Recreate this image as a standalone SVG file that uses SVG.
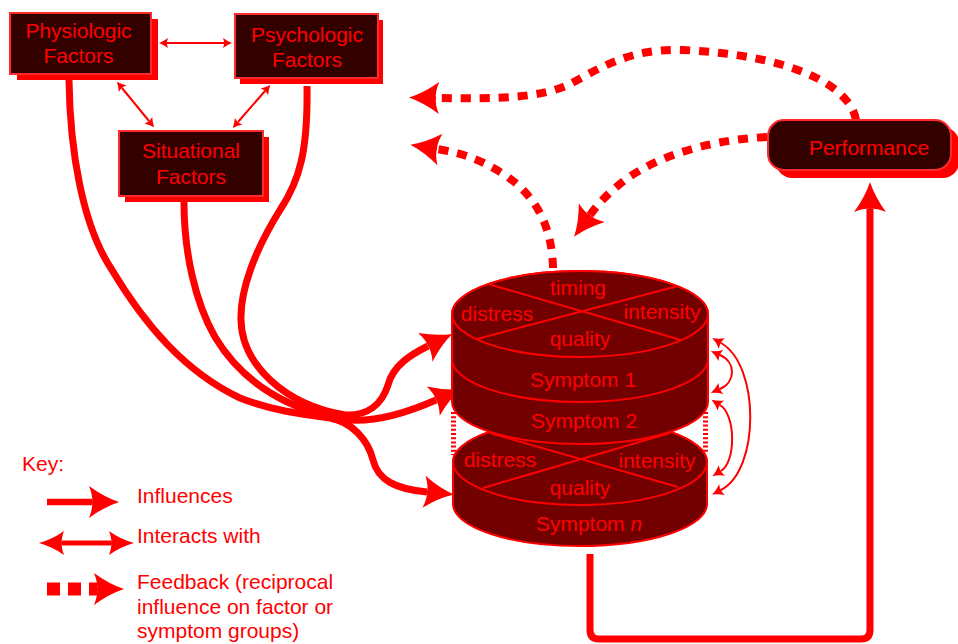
<svg xmlns="http://www.w3.org/2000/svg" width="958" height="644" viewBox="0 0 958 644">
<style>
text{font-family:"Liberation Sans",Arial,sans-serif;font-size:21px;fill:#ff0000}
.c{text-anchor:middle}
.box{fill:#330000;stroke:#ff2a2a;stroke-width:2}
.shadow{fill:#ff0000}
.cyl{fill:#720000;stroke:#ff0000;stroke-width:2}
.edge{fill:none;stroke:#ff0000;stroke-width:2}
.inf{fill:none;stroke:#ff0000;stroke-width:7}
.fb{fill:none;stroke:#ff0000;stroke-width:8;stroke-dasharray:10 9}
.thin{fill:none;stroke:#ff0000;stroke-width:2}
.dots{stroke:#ff0000;stroke-width:5;stroke-dasharray:2 2.2}
</style>
<defs>
<marker id="big" markerUnits="userSpaceOnUse" orient="auto" overflow="visible" markerWidth="1" markerHeight="1" refX="0" refY="0"><path d="M27,0 Q12,-5 -3,-16 Q1,-6 0,0 Q1,6 -3,16 Q12,5 27,0Z" fill="#ff0000"/></marker>
<marker id="mid" markerUnits="userSpaceOnUse" orient="auto-start-reverse" overflow="visible" markerWidth="1" markerHeight="1" refX="0" refY="0"><path d="M23,0 Q9,-4 -2,-12 Q1,-4 0,0 Q1,4 -2,12 Q9,4 23,0Z" fill="#ff0000"/></marker>
<marker id="sm" markerUnits="userSpaceOnUse" orient="auto-start-reverse" overflow="visible" markerWidth="1" markerHeight="1" refX="0" refY="0"><path d="M10,0 Q4,-2 -1,-6 Q0.5,-2 0,0 Q0.5,2 -1,6 Q4,2 10,0Z" fill="#ff0000"/></marker>
<marker id="tiny" markerUnits="userSpaceOnUse" orient="auto-start-reverse" overflow="visible" markerWidth="1" markerHeight="1" refX="0" refY="0"><path d="M8,0 Q3.5,-1.8 -1,-5 Q0.3,-1.5 0,0 Q0.3,1.5 -1,5 Q3.5,1.8 8,0Z" fill="#ff0000"/></marker>
</defs>

<g id="connectors">
  <!-- interactions between factor boxes -->
  <path class="thin" d="M167,43 L224,43" marker-start="url(#tiny)" marker-end="url(#tiny)"/>
  <path class="thin" d="M122,88 L149,121" marker-start="url(#tiny)" marker-end="url(#tiny)"/>
  <path class="thin" d="M265,91 L238,122" marker-start="url(#tiny)" marker-end="url(#tiny)"/>
  <!-- influences -->
  <path class="inf" d="M69,80 C70,150 82,225 112,270 C145,325 185,372 240,398 C270,410 300,414 330,418 C352,422 368,440 373,460 C378,480 395,489 427,492" marker-end="url(#big)"/>
  <path class="inf" d="M184,202 C184,252 195,302 215,337 C242,382 285,408 340,419 C370,424 402,415 436,400" marker-end="url(#big)"/>
  <path class="inf" d="M307,86 C308,150 300,180 280,210 C255,250 240,290 241,320 C242,365 285,405 345,415 C368,416 382,404 388,385 C393,365 412,354 428,346" marker-end="url(#big)"/>
  <!-- symptom interactions -->
  <path class="thin" d="M721,343 C760,365 760,470 721,490" marker-start="url(#sm)" marker-end="url(#sm)"/>
  <path class="thin" d="M720,355 C736,362 736,382 720,389" marker-start="url(#sm)" marker-end="url(#sm)"/>
  <path class="thin" d="M720,405 C736,415 736,462 721,471" marker-start="url(#sm)" marker-end="url(#sm)"/>
  <!-- symptoms to performance -->
  <path class="inf" d="M590,554 L590,630 Q590,639 599,639 L861,639 Q870,639 870,630 L870,209" marker-end="url(#big)"/>
  <!-- feedback -->
  <path class="fb" d="M856,120 C850,85 790,55 683,50 C630,48 600,68 570,84 C540,98 500,99 436,98" marker-end="url(#big)"/>
  <path class="fb" d="M767,137 C705,140 655,158 625,180 C608,193 598,204 590,215" marker-end="url(#big)"/>
  <path class="fb" d="M553,268 C552,225 535,195 505,175 C482,160 462,153 437,149" marker-end="url(#big)"/>
</g>

<g id="physiologic">
  <rect class="shadow" x="17" y="19" width="141" height="61"/>
  <rect class="box" x="10" y="13" width="141" height="61"/>
  <text class="c" x="78.5" y="38">Physiologic</text>
  <text class="c" x="78.5" y="63">Factors</text>
</g>
<g id="psychologic">
  <rect class="shadow" x="240" y="20" width="143" height="64"/>
  <rect class="box" x="235" y="14" width="143" height="64"/>
  <text class="c" x="307" y="42">Psychologic</text>
  <text class="c" x="307" y="67">Factors</text>
</g>
<g id="situational">
  <rect class="shadow" x="125" y="137" width="144" height="65"/>
  <rect class="box" x="119" y="131" width="144" height="65"/>
  <text class="c" x="191" y="158">Situational</text>
  <text class="c" x="191" y="184">Factors</text>
</g>
<g id="performance">
  <rect class="shadow" x="776" y="127" width="183" height="51" rx="16"/>
  <rect class="box" x="768" y="120" width="183" height="50" rx="16"/>
  <text class="c" x="869" y="155">Performance</text>
</g>

<g id="symptom-n">
  <path class="cyl" d="M453,462 L453,504 A127,42 0 0 0 707,504 L707,462 A127,43 0 0 0 453,462 Z"/>
  <ellipse class="cyl" cx="580" cy="462" rx="127" ry="43"/>
  <path class="edge" d="M490,433 L678,487 M670,433 L483,488"/>
  <text class="c" x="500" y="467">distress</text>
  <text class="c" x="657" y="468">intensity</text>
  <text class="c" x="580" y="495">quality</text>
  <text class="c" x="589" y="531">Symptom <tspan font-style="italic">n</tspan></text>
</g>
<g id="symptom-gap">
  <line class="dots" x1="453.5" y1="412" x2="453.5" y2="455"/>
  <line class="dots" x1="705.5" y1="412" x2="705.5" y2="453"/>
</g>
<g id="symptoms-1-2">
  <path class="cyl" d="M452,314 L452,402 A128,42 0 0 0 708,402 L708,314 A128,43 0 0 0 452,314 Z"/>
  <path class="edge" d="M452,359 A128,43 0 0 0 708,359"/>
  <ellipse class="cyl" cx="580" cy="314" rx="128" ry="43"/>
  <path class="edge" d="M488,284 L681,340 M678,286 L477,339"/>
  <text class="c" x="578" y="295">timing</text>
  <text class="c" x="497" y="321">distress</text>
  <text class="c" x="662" y="319">intensity</text>
  <text class="c" x="580" y="346">quality</text>
  <text class="c" x="583" y="387">Symptom 1</text>
  <text class="c" x="584" y="428">Symptom 2</text>
</g>

<g id="key">
  <text x="22" y="471">Key:</text>
  <path d="M47,502 L92,502" stroke="#ff0000" stroke-width="6.5" fill="none" marker-end="url(#big)"/>
  <text x="137" y="503">Influences</text>
  <path d="M62,543 L111,543" stroke="#ff0000" stroke-width="5" fill="none" marker-start="url(#mid)" marker-end="url(#mid)"/>
  <text x="137" y="543">Interacts with</text>
  <path d="M47,589 L97,589" stroke="#ff0000" stroke-width="13" stroke-dasharray="13 8" fill="none" marker-end="url(#big)"/>
  <text x="137" y="589">Feedback (reciprocal</text>
  <text x="137" y="614">influence on factor or</text>
  <text x="137" y="638">symptom groups)</text>
</g>
</svg>
